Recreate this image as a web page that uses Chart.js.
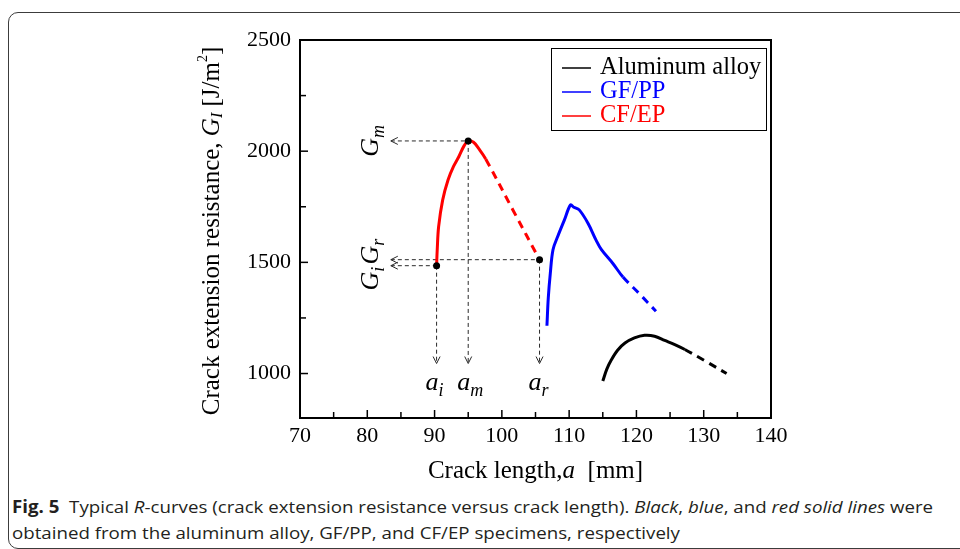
<!DOCTYPE html>
<html>
<head>
<meta charset="utf-8">
<script src="https://cdn.jsdelivr.net/npm/chart.js@4.4.1/dist/chart.umd.min.js"></script>
<style>
    html, body { margin: 0; padding: 0; background: #fff; }
    body { width: 960px; height: 549px; position: relative; overflow: hidden; }
    #frame {
        position: absolute; left: 8px; top: 12px; width: 1000px; height: 537px;
        border: 1px solid #3c3c3c; border-radius: 10px 0 0 10px; box-sizing: border-box;
    }
    #wrap { position: absolute; left: 0; top: 0; width: 960px; height: 492px; }
    #caption {
        position: absolute; left: 12px; top: 494px;
        font-family: 'Open Sans', sans-serif; font-size: 17px; line-height: 26px;
        color: #231f20; white-space: nowrap; transform-origin: 0 0;
    }
    #caption b { font-weight: 700; }
</style>
</head>
<body>
<div id="frame"></div>
<div id="wrap"><canvas id="rcurves" width="960" height="492"></canvas></div>
<div id="caption">
    <span id="cap1"><b>Fig. 5</b>&nbsp; Typical <i>R</i>-curves (crack extension resistance versus crack length). <i>Black</i>, <i>blue</i>, and <i>red solid lines</i> were</span><br>
    <span>obtained from the aluminum alloy, GF/PP, and CF/EP specimens, respectively</span>
</div>
<script>
// ----- DATI -----
const xTicks = [70, 75, 80, 85, 90, 95, 100, 105, 110, 115, 120, 125, 130, 135, 140];
const yTicks = [1000, 1250, 1500, 1750, 2000, 2250, 2500];

// Aluminum alloy (nero)
const alX = [115.0, 115.6, 116.3, 117.2, 118.3, 119.7, 121.2, 122.7, 124.2, 125.7, 127.2, 130.3, 133.4];
const alY = [966, 1020, 1063, 1105, 1137, 1160, 1172, 1168, 1149, 1130, 1108, 1055, 1000];
const alDashFrom = 10;

// GF/PP (blu)
const gfX = [106.7, 106.9, 107.2, 107.6, 108.3, 109.3, 110.2, 110.7, 111.5, 112.8, 114.0, 114.8, 116.5, 118.0, 120.5, 122.9];
const gfY = [1215, 1340, 1450, 1557, 1616, 1691, 1758, 1748, 1736, 1676, 1600, 1557, 1495, 1434, 1357, 1280];
const gfDashFrom = 13;

// CF/EP (rosso)
const cfX = [90.3, 90.4, 90.6, 91.2, 92.0, 92.8, 93.6, 94.4, 95.0, 95.8, 96.6, 97.6, 101.6, 105.6];
const cfY = [1485, 1560, 1660, 1780, 1870, 1930, 1975, 2025, 2046, 2040, 2010, 1965, 1738, 1512];
const cfDashFrom = 11;

// Punti caratteristici (a_i, G_i), (a_m, G_m), (a_r, G_r)
const keyA = [90.3, 95.0, 105.6];
const keyG = [1485, 2046, 1512];
const keyNames = ['i', 'm', 'r'];
const arrowX = 83.5;    // punta delle frecce orizzontali
const arrowY = 1045;    // punta delle frecce verticali

const toPts = (xs, ys) => xs.map((x, i) => ({ x: x, y: ys[i] }));

// ----- STILI -----
const SERIF = "'Liberation Serif', 'Times New Roman', serif";
const GUIDE_COLOR = '#2a2a2a';

function curveDataset(label, xs, ys, dashFrom, color) {
    return {
        label: label,
        data: toPts(xs, ys),
        borderColor: color,
        backgroundColor: color,
        borderWidth: 3,
        pointRadius: 0,
        showLine: true,
        tension: 0.35,
        order: 1,
        segment: {
            borderDash: ctx => ctx.p0DataIndex >= dashFrom ? [8, 6] : undefined
        }
    };
}

function guideDataset(points) {
    return {
        data: points,
        borderColor: GUIDE_COLOR,
        borderWidth: 1,
        borderDash: [4, 3],
        pointRadius: 0,
        showLine: true,
        tension: 0,
        order: 2
    };
}

const guides = [];
keyA.forEach((a, i) => {
    guides.push(guideDataset([{ x: arrowX, y: keyG[i] }, { x: a, y: keyG[i] }]));
    guides.push(guideDataset([{ x: a, y: keyG[i] }, { x: a, y: arrowY }]));
});

// disegna testo composto da più "pezzi" (corsivo, pedici, apici)
function drawRuns(ctx, runs, cx, cy, angle, align) {
    ctx.save();
    ctx.translate(cx, cy);
    ctx.rotate(angle);
    ctx.textBaseline = 'middle';
    ctx.textAlign = 'left';
    let total = 0;
    runs.forEach(r => { ctx.font = r.f; total += ctx.measureText(r.t).width; });
    let x = align === 'left' ? 0 : -total / 2;
    runs.forEach(r => {
        ctx.font = r.f;
        ctx.fillStyle = r.c || '#000';
        ctx.fillText(r.t, x, r.dy || 0);
        x += ctx.measureText(r.t).width;
    });
    ctx.restore();
}

const decorPlugin = {
    id: 'decor',
    afterDatasetsDraw(chart) {
        const ctx = chart.ctx;
        const xs = chart.scales.x, ys = chart.scales.y;
        const area = chart.chartArea;

        // cornice del grafico
        ctx.save();
        ctx.strokeStyle = '#000';
        ctx.lineWidth = 2;
        ctx.strokeRect(area.left, area.top, area.right - area.left, area.bottom - area.top);

        // tacche verso l'interno
        ctx.lineWidth = 1.5;
        xTicks.forEach(v => {
            const px = xs.getPixelForValue(v);
            const len = v % 10 === 0 ? 8 : 6;
            ctx.beginPath();
            ctx.moveTo(px, area.bottom);
            ctx.lineTo(px, area.bottom - len);
            ctx.stroke();
        });
        yTicks.forEach(v => {
            const py = ys.getPixelForValue(v);
            const len = v % 500 === 0 ? 8 : 6;
            ctx.beginPath();
            ctx.moveTo(area.left, py);
            ctx.lineTo(area.left + len, py);
            ctx.stroke();
        });

        // frecce (aperte)
        ctx.strokeStyle = GUIDE_COLOR;
        ctx.lineWidth = 1;
        const ax = xs.getPixelForValue(arrowX);
        keyG.forEach(g => {
            const py = ys.getPixelForValue(g);
            ctx.beginPath();
            ctx.moveTo(ax + 7, py - 3.5);
            ctx.lineTo(ax, py);
            ctx.lineTo(ax + 7, py + 3.5);
            ctx.stroke();
        });
        const ay = ys.getPixelForValue(arrowY);
        keyA.forEach(a => {
            const px = xs.getPixelForValue(a);
            ctx.beginPath();
            ctx.moveTo(px - 3.5, ay - 7);
            ctx.lineTo(px, ay);
            ctx.lineTo(px + 3.5, ay - 7);
            ctx.stroke();
        });
        ctx.restore();

        // etichette a_i, a_m, a_r
        const it = 'italic 26px ' + SERIF;
        const sub = 'italic 18px ' + SERIF;
        keyA.forEach((a, i) => {
            const px = xs.getPixelForValue(a);
            drawRuns(ctx, [{ t: 'a', f: it }, { t: keyNames[i], f: sub, dy: 8 }], px - 11, ay + 20, 0, 'left');
        });

        // etichette G_m, G_i, G_r (ruotate)
        const gx = ax - 20;
        const gm = ys.getPixelForValue(keyG[1]);
        drawRuns(ctx, [{ t: 'G', f: it }, { t: 'm', f: sub, dy: 8 }], gx, gm, -Math.PI / 2);
        const gi = ys.getPixelForValue(keyG[0]);
        const gr = ys.getPixelForValue(keyG[2]);
        drawRuns(ctx, [{ t: 'G', f: it }, { t: 'i', f: sub, dy: 8 }], gx, gi + 13, -Math.PI / 2);
        drawRuns(ctx, [{ t: 'G', f: it }, { t: 'r', f: sub, dy: 8 }], gx, gr - 8, -Math.PI / 2);

        // titoli degli assi
        const big = '25px ' + SERIF;
        drawRuns(ctx, [
            { t: 'Crack length,', f: big },
            { t: 'a', f: 'italic 25px ' + SERIF },
            { t: '  [mm]', f: big }
        ], (area.left + area.right) / 2, area.bottom + 53, 0);
        drawRuns(ctx, [
            { t: 'Crack extension resistance, ', f: big },
            { t: 'G', f: 'italic 25px ' + SERIF },
            { t: 'I', f: 'italic 16px ' + SERIF, dy: 6 },
            { t: ' [J/m', f: big },
            { t: '2', f: '14px ' + SERIF, dy: -9 },
            { t: ']', f: big }
        ], area.left - 88, (area.top + area.bottom) / 2 + 2, -Math.PI / 2);

        // legenda con cornice
        const legItems = chart.data.datasets.filter(d => d.legend);
        const lw = 215, lh = 82;
        const lx = area.right - lw - 5, ly = area.top + 8;
        ctx.save();
        ctx.fillStyle = '#fff';
        ctx.fillRect(lx, ly, lw, lh);
        ctx.strokeStyle = '#000';
        ctx.lineWidth = 1;
        ctx.strokeRect(lx + 0.5, ly + 0.5, lw, lh);
        ctx.font = '24.5px ' + SERIF;
        ctx.textBaseline = 'middle';
        legItems.forEach((d, i) => {
            const yy = ly + 20 + i * 24;
            ctx.strokeStyle = d.borderColor;
            ctx.lineWidth = 1.5;
            ctx.beginPath();
            ctx.moveTo(lx + 11, yy);
            ctx.lineTo(lx + 40, yy);
            ctx.stroke();
            ctx.fillStyle = d.borderColor;
            ctx.fillText(d.label, lx + 49, yy);
        });
        ctx.restore();
    }
};

const datasets = [
    Object.assign(curveDataset('Aluminum alloy', alX, alY, alDashFrom, '#000000'), { legend: true }),
    Object.assign(curveDataset('GF/PP', gfX, gfY, gfDashFrom, '#0000ff'), { legend: true }),
    Object.assign(curveDataset('CF/EP', cfX, cfY, cfDashFrom, '#ff0000'), { legend: true }),
    ...guides,
    {
        data: toPts(keyA, keyG),
        pointRadius: 3.5,
        pointBackgroundColor: '#000',
        pointBorderWidth: 0,
        showLine: false,
        order: 0
    }
];

new Chart(document.getElementById('rcurves').getContext('2d'), {
    type: 'scatter',
    data: { datasets: datasets },
    options: {
        responsive: false,
        animation: false,
        events: [],
        layout: { padding: { top: 40, right: 189, left: 0, bottom: 0 } },
        plugins: {
            legend: { display: false },
            tooltip: { enabled: false }
        },
        scales: {
            x: {
                type: 'linear',
                min: 70,
                max: 140,
                afterBuildTicks: s => { s.ticks = xTicks.map(v => ({ value: v })); },
                afterFit: s => { s.height = 74; },
                grid: { display: false, drawTicks: false },
                border: { display: false },
                ticks: {
                    autoSkip: false,
                    maxRotation: 0,
                    padding: 5,
                    color: '#000',
                    font: { family: SERIF, size: 22 },
                    callback: v => (v % 10 === 0 ? v : '')
                }
            },
            y: {
                type: 'linear',
                min: 800,
                max: 2500,
                afterBuildTicks: s => { s.ticks = yTicks.map(v => ({ value: v })); },
                afterFit: s => { s.width = 300; },
                grid: { display: false, drawTicks: false },
                border: { display: false },
                ticks: {
                    autoSkip: false,
                    padding: 9,
                    color: '#000',
                    font: { family: SERIF, size: 22 },
                    callback: v => (v % 500 === 0 ? v : '')
                }
            }
        }
    },
    plugins: [decorPlugin]
});

// adatta la didascalia alla larghezza originale (font più stretto)
const cap = document.getElementById('caption');
const w1 = document.getElementById('cap1').getBoundingClientRect().width;
cap.style.transform = 'scaleX(' + (921 / w1).toFixed(4) + ')';
</script>
</body>
</html>
